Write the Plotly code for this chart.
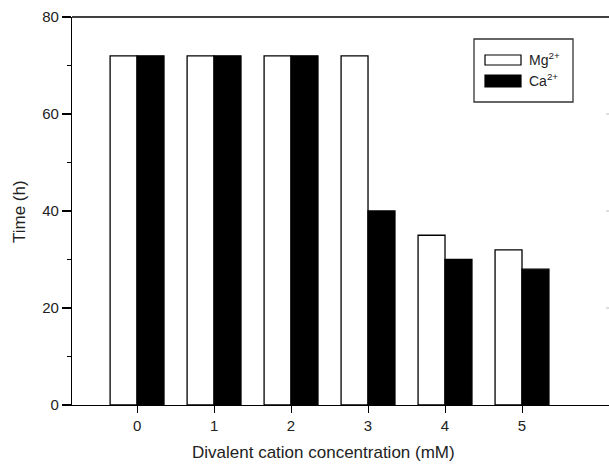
import plotly.graph_objects as go

categories = [0, 1, 2, 3, 4, 5]
mg_values = [72, 72, 72, 72, 35, 32]
ca_values = [72, 72, 72, 40, 30, 28]
y_ticks = [0, 20, 40, 60, 80]

W, H = 609, 467
L, R, T, B = 72, 0, 17, 62
pw = W - L - R
ph = H - T - B

def px(x):
    return (x - L) / pw

def py(y):
    return (H - B - y) / ph

font = "Liberation Sans, Arial, sans-serif"

fig = go.Figure()
fig.add_trace(go.Bar(x=categories, y=mg_values, name="Mg<sup>2+</sup>",
                     marker=dict(color="white", line=dict(color="black", width=1.3))))
fig.add_trace(go.Bar(x=categories, y=ca_values, name="Ca<sup>2+</sup>",
                     marker=dict(color="black", line=dict(color="black", width=1.3))))

fig.update_layout(
    width=W, height=H,
    margin=dict(l=L, r=R, t=T, b=B),
    paper_bgcolor="white", plot_bgcolor="white",
    barmode="group", bargap=0.3, bargroupgap=0,
    showlegend=False,
    font=dict(family=font, size=15, color="#222"),
)
fig.update_xaxes(
    range=[-0.845, 6.13], tickvals=categories, ticktext=[str(c) for c in categories],
    showline=True, linecolor="black", linewidth=1.3, mirror=False,
    ticks="outside", ticklen=7, tickwidth=1.3, tickcolor="black",
    showgrid=False, zeroline=False, tickfont=dict(size=15, family=font, color="#222"),
)
fig.update_yaxes(
    range=[0, 80], tickvals=y_ticks,
    showline=True, linecolor="black", linewidth=1.3,
    ticks="outside", ticklen=9, tickwidth=2.2, tickcolor="black",
    minor=dict(tickvals=[10, 30, 50, 70], ticks="outside", ticklen=4, tickwidth=1, tickcolor="black"),
    showgrid=False, zeroline=False, tickfont=dict(size=15, family=font, color="#222"),
)

# top frame line
fig.add_shape(type="line", xref="paper", yref="paper", x0=0, x1=1, y0=1, y1=1,
              line=dict(color="black", width=1.3))
# inward right-frame tick marks (frame itself lies just beyond the picture)
for v in [20, 40, 60]:
    fig.add_shape(type="line", xref="paper", yref="y", x0=px(606), x1=1, y0=v, y1=v,
                  line=dict(color="#bbb", width=1))

# axis titles
fig.add_annotation(text="Divalent cation concentration (mM)", xref="paper", yref="paper",
                   x=px(323), y=py(452), xanchor="center", yanchor="middle", showarrow=False,
                   font=dict(size=17, family=font, color="#222"))
fig.add_annotation(text="Time (h)", xref="paper", yref="paper", textangle=-90,
                   x=px(19), y=py(211), xanchor="center", yanchor="middle", showarrow=False,
                   font=dict(size=17, family=font, color="#222"))

# legend box
fig.add_shape(type="rect", xref="paper", yref="paper",
              x0=px(474), x1=px(573), y0=py(102), y1=py(39),
              line=dict(color="#333", width=1.3), fillcolor="white")
fig.add_shape(type="rect", xref="paper", yref="paper",
              x0=px(485), x1=px(521), y0=py(65), y1=py(55),
              line=dict(color="black", width=1.2), fillcolor="white")
fig.add_shape(type="rect", xref="paper", yref="paper",
              x0=px(485), x1=px(521), y0=py(87), y1=py(75),
              line=dict(color="black", width=1.2), fillcolor="black")
fig.add_annotation(text="Mg<sup>2+</sup>", xref="paper", yref="paper",
                   x=px(527), y=py(59), xanchor="left", yanchor="middle", showarrow=False,
                   font=dict(size=14, family=font, color="#222"))
fig.add_annotation(text="Ca<sup>2+</sup>", xref="paper", yref="paper",
                   x=px(527), y=py(80), xanchor="left", yanchor="middle", showarrow=False,
                   font=dict(size=14, family=font, color="#222"))

fig.write_html("out.html", config={"displayModeBar": False},
               post_script="document.body.style.margin='0';document.body.style.overflow='hidden';")
